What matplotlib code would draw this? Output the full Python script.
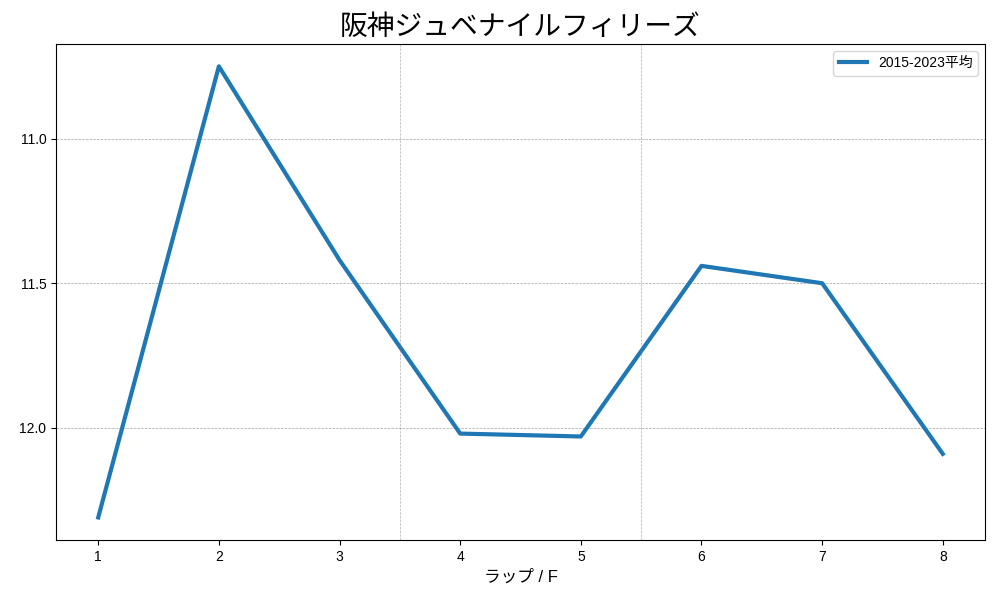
import matplotlib
matplotlib.use("Agg")
import matplotlib.pyplot as plt

plt.rcParams["font.family"] = ["Liberation Sans", "Noto Sans CJK JP", "DejaVu Sans"]

laps = [1, 2, 3, 4, 5, 6, 7, 8]
avg_times = [12.31, 10.75, 11.42, 12.02, 12.03, 11.44, 11.50, 12.09]
section_marks = [3.5, 5.5]

fig, ax = plt.subplots(figsize=(10, 6), dpi=100)
ax.plot(laps, avg_times, linewidth=3, color="#1f77b4", label="2015-2023平均")
for xm in section_marks:
    ax.axvline(xm, color="gray", linestyle="--", linewidth=0.5, alpha=0.6)
ax.grid(axis="y", color="gray", linestyle="--", linewidth=0.5, alpha=0.7)
ax.set_yticks([11.0, 11.5, 12.0])
ax.invert_yaxis()
ax.set_xticks(laps)
ax.set_title("阪神ジュベナイルフィリーズ", fontsize=20)
ax.set_xlabel("ラップ / F", fontsize=12)
ax.legend(loc="upper right")
fig.subplots_adjust(left=0.056, right=0.985, top=0.927, bottom=0.1)
plt.savefig("out.png", dpi=100)
